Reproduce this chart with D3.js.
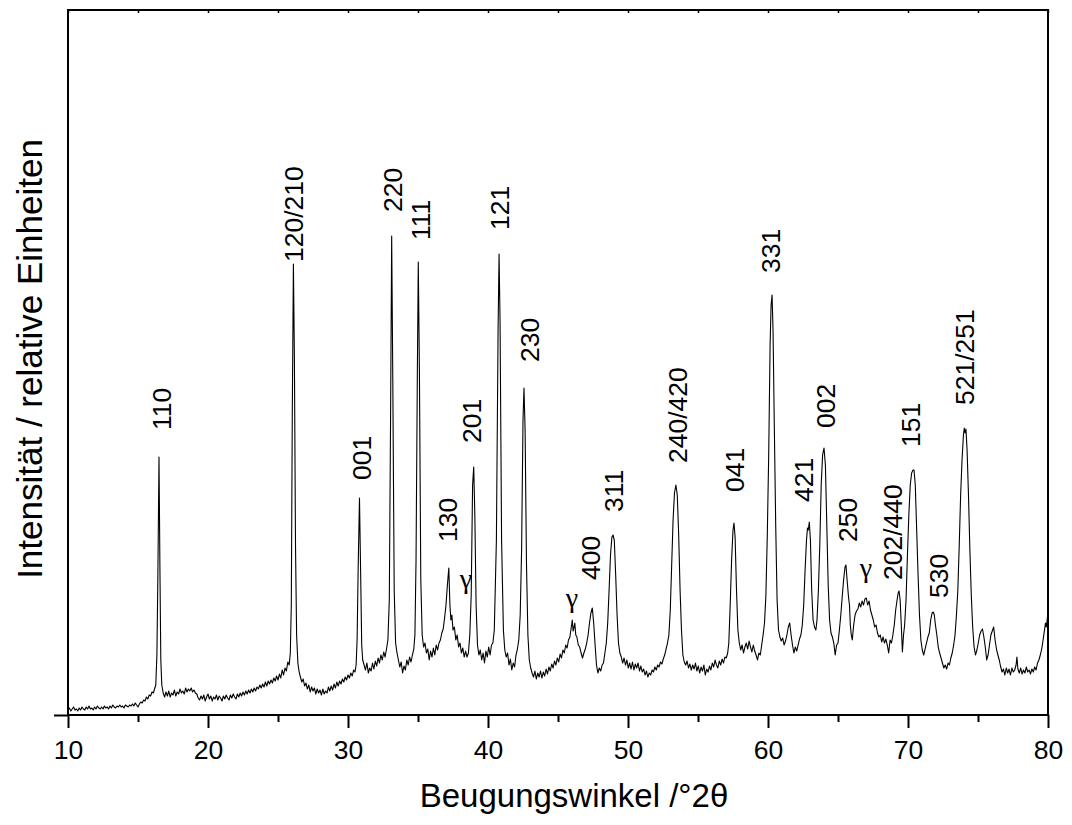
<!DOCTYPE html>
<html><head><meta charset="utf-8">
<script src="https://cdn.jsdelivr.net/npm/d3@7"></script>
<style>body{margin:0;background:#fff}</style>
</head><body>
<svg id="chart" width="1072" height="825"></svg>
<script>
// XRD pattern: [2theta (deg), intensity (arb. units)]
const pattern = [
[10.0,5],[10.1,7],[10.2,4],[10.3,6],[10.4,8],[10.5,5],[10.6,6],[10.7,4],[10.8,7],[10.9,5],[11.0,8],[11.1,6],[11.2,5],
[11.3,8],[11.4,6],[11.5,9],[11.6,6],[11.7,7],[11.8,5],[11.9,8],[12.0,6],[12.1,9],[12.2,7],[12.3,6],[12.4,8],[12.5,6],
[12.6,9],[12.7,7],[12.8,8],[12.9,6],[13.0,9],[13.1,7],[13.2,10],[13.3,8],[13.4,7],[13.5,9],[13.6,8],[13.7,10],[13.8,8],
[13.9,9],[14.0,7],[14.1,10],[14.2,9],[14.3,8],[14.4,10],[14.5,9],[14.6,11],[14.7,9],[14.8,12],[14.9,10],[15.0,8],
[15.1,11],[15.2,13],[15.3,12],[15.4,15],[15.5,14],[15.6,18],[15.7,16],[15.8,20],[15.9,19],[16.0,23],[16.1,22],
[16.2,27],[16.27,30],[16.35,60],[16.42,140],[16.5,258],[16.57,140],[16.63,55],[16.7,30],
[16.8,22],[16.9,18],[17.0,23],[17.1,19],[17.2,24],[17.3,18],[17.4,22],[17.5,20],[17.6,25],[17.7,19],[17.8,23],
[17.9,21],[18.0,26],[18.1,22],[18.2,24],[18.3,21],[18.4,27],[18.5,23],[18.6,26],[18.7,24],[18.8,27],[18.9,23],
[19.0,25],[19.1,22],[19.2,21],[19.3,17],[19.4,15],[19.5,19],[19.6,16],[19.7,20],[19.8,14],[19.9,18],[20.0,21],
[20.1,16],[20.2,19],[20.3,14],[20.4,18],[20.5,16],[20.6,20],[20.7,15],[20.8,19],[20.9,17],[21.0,14],[21.1,19],
[21.2,16],[21.3,20],[21.4,17],[21.5,15],[21.6,20],[21.7,17],[21.8,21],[21.9,18],[22.0,16],[22.1,21],[22.2,18],
[22.3,22],[22.4,19],[22.5,23],[22.6,20],[22.7,24],[22.8,21],[22.9,25],[23.0,22],[23.1,26],[23.2,23],[23.3,27],
[23.4,24],[23.5,28],[23.6,26],[23.7,30],[23.8,27],[23.9,31],[24.0,28],[24.1,33],[24.2,29],[24.3,34],[24.4,31],
[24.5,35],[24.6,32],[24.7,37],[24.8,34],[24.9,39],[25.0,35],[25.1,41],[25.2,37],[25.3,45],[25.4,40],[25.5,47],
[25.6,44],[25.7,53],[25.8,50],[25.88,62],[25.95,110],[26.02,300],[26.1,451],[26.17,360],[26.25,170],[26.33,80],
[26.42,52],[26.5,44],[26.6,38],[26.7,33],[26.8,36],[26.9,29],[27.0,32],[27.1,26],[27.2,30],[27.3,23],[27.4,28],
[27.5,24],[27.6,27],[27.7,21],[27.8,26],[27.9,22],[28.0,25],[28.1,20],[28.2,26],[28.3,21],[28.4,24],[28.5,22],
[28.6,28],[28.7,24],[28.8,29],[28.9,25],[29.0,31],[29.1,27],[29.2,33],[29.3,29],[29.4,34],[29.5,31],[29.6,36],
[29.7,33],[29.8,38],[29.9,35],[30.0,40],[30.1,37],[30.2,42],[30.3,39],[30.4,45],[30.5,43],[30.58,50],[30.65,75],
[30.73,150],[30.82,217],[30.9,145],[30.98,70],[31.05,55],[31.15,50],[31.25,45],[31.35,52],[31.45,42],[31.55,47],
[31.65,44],[31.75,52],[31.85,46],[31.95,54],[32.05,49],[32.15,57],[32.25,52],[32.35,60],[32.45,55],[32.55,63],
[32.65,58],[32.75,66],[32.85,75],[32.95,115],[33.04,295],[33.12,479],[33.2,335],[33.3,125],[33.4,72],[33.5,62],
[33.6,55],[33.7,48],[33.8,53],[33.9,42],[34.0,49],[34.1,45],[34.2,55],[34.3,50],[34.4,58],[34.5,53],[34.6,60],
[34.7,66],[34.78,80],[34.86,155],[34.95,335],[35.02,453],[35.1,345],[35.2,135],[35.3,80],[35.4,68],[35.5,72],
[35.6,62],[35.7,66],[35.8,55],[35.9,64],[36.0,58],[36.1,67],[36.2,60],[36.3,70],[36.4,65],[36.5,72],[36.6,75],
[36.7,82],[36.8,86],[36.9,97],[37.0,110],[37.1,130],[37.2,147],[37.28,110],[37.35,95],[37.42,100],[37.5,85],
[37.6,88],[37.7,75],[37.8,80],[37.9,68],[38.0,72],[38.1,62],[38.2,67],[38.3,58],[38.4,64],[38.5,58],[38.6,62],
[38.7,80],[38.8,120],[38.9,230],[38.98,248],[39.06,200],[39.15,110],[39.25,70],[39.35,60],[39.45,65],[39.55,55],
[39.65,62],[39.75,52],[39.85,64],[39.95,58],[40.05,68],[40.15,60],[40.25,70],[40.35,72],[40.45,85],[40.6,175],
[40.72,385],[40.79,461],[40.86,395],[40.97,175],[41.1,85],[41.2,65],[41.3,58],[41.4,62],[41.5,50],[41.6,56],
[41.7,45],[41.8,52],[41.9,48],[42.0,60],[42.1,66],[42.2,75],[42.3,100],[42.4,165],[42.5,295],[42.57,327],
[42.65,285],[42.75,150],[42.85,80],[42.95,55],[43.05,47],[43.15,42],[43.25,38],[43.35,44],[43.45,36],[43.55,42],
[43.65,38],[43.75,44],[43.85,37],[43.95,43],[44.05,39],[44.15,46],[44.25,41],[44.35,48],[44.45,44],[44.55,51],
[44.65,47],[44.75,54],[44.85,50],[44.95,57],[45.05,53],[45.15,61],[45.25,57],[45.35,65],[45.45,62],[45.55,70],
[45.65,67],[45.75,75],[45.85,78],[45.95,88],[46.02,95],[46.08,84],[46.15,88],[46.2,92],[46.27,80],[46.35,78],
[46.45,70],[46.55,68],[46.65,62],[46.75,57],[46.85,62],[46.95,66],[47.05,72],[47.15,80],[47.25,92],[47.35,102],
[47.45,107],[47.55,92],[47.65,70],[47.75,50],[47.85,42],[47.95,47],[48.05,44],[48.15,50],[48.25,52],[48.35,62],
[48.45,72],[48.55,92],[48.65,125],[48.75,160],[48.85,178],[48.93,180],[49.02,175],[49.12,140],[49.22,100],
[49.32,72],[49.42,62],[49.52,58],[49.62,52],[49.72,57],[49.82,50],[49.92,55],[50.02,47],[50.12,52],[50.22,46],
[50.32,53],[50.42,45],[50.52,51],[50.62,47],[50.72,52],[50.82,44],[50.92,49],[51.02,43],[51.12,46],[51.22,40],
[51.32,44],[51.42,38],[51.52,42],[51.62,40],[51.72,45],[51.82,43],[51.92,48],[52.02,45],[52.12,50],[52.22,48],
[52.32,53],[52.42,51],[52.52,56],[52.62,60],[52.72,66],[52.82,72],[52.92,80],[53.02,105],[53.12,150],[53.22,195],
[53.32,222],[53.42,230],[53.52,220],[53.62,180],[53.72,125],[53.82,85],[53.92,60],[54.02,53],[54.12,50],[54.22,54],
[54.32,47],[54.42,51],[54.52,45],[54.62,50],[54.72,46],[54.82,52],[54.92,44],[55.02,49],[55.12,42],[55.22,48],
[55.32,44],[55.42,50],[55.52,40],[55.62,46],[55.72,43],[55.82,49],[55.92,45],[56.02,52],[56.12,48],[56.22,55],
[56.32,50],[56.42,47],[56.52,54],[56.62,50],[56.72,56],[56.82,52],[56.92,58],[57.02,57],[57.12,62],[57.2,72],
[57.3,110],[57.4,155],[57.5,185],[57.57,192],[57.65,178],[57.75,125],[57.85,85],[57.95,72],[58.05,65],[58.15,70],
[58.25,62],[58.35,68],[58.45,72],[58.55,66],[58.65,74],[58.75,68],[58.85,63],[58.95,70],[59.05,64],[59.15,60],
[59.25,55],[59.35,62],[59.45,60],[59.55,70],[59.65,80],[59.75,92],[59.85,120],[59.95,180],[60.05,260],[60.15,370],
[60.22,410],[60.29,420],[60.36,385],[60.45,290],[60.55,190],[60.65,115],[60.75,85],[60.85,78],[60.95,74],
[61.05,77],[61.15,70],[61.25,74],[61.35,80],[61.45,88],[61.55,92],[61.65,80],[61.75,70],[61.85,62],[61.95,68],
[62.05,64],[62.15,70],[62.25,76],[62.35,80],[62.45,90],[62.55,110],[62.65,145],[62.75,175],[62.82,187],[62.88,185],
[62.95,193],[63.03,175],[63.12,125],[63.22,95],[63.32,88],[63.42,85],[63.5,95],[63.6,125],[63.7,170],[63.8,230],
[63.9,260],[64.0,267],[64.1,250],[64.2,190],[64.3,130],[64.4,95],[64.5,82],[64.6,78],[64.7,72],[64.8,60],[64.9,70],
[65.0,72],[65.1,85],[65.2,100],[65.3,118],[65.4,135],[65.5,148],[65.57,150],[65.65,135],[65.75,118],[65.82,110],
[65.88,90],[65.95,80],[66.02,75],[66.12,90],[66.22,100],[66.32,104],[66.42,106],[66.52,112],[66.62,108],
[66.72,114],[66.82,110],[66.92,116],[67.02,117],[67.12,110],[67.22,114],[67.32,105],[67.42,100],[67.52,95],
[67.62,88],[67.72,90],[67.82,82],[67.92,78],[68.02,80],[68.12,73],[68.22,78],[68.32,72],[68.42,76],[68.52,70],
[68.62,62],[68.72,75],[68.82,72],[68.92,80],[69.02,90],[69.12,105],[69.22,115],[69.3,122],[69.36,124],[69.44,115],
[69.52,90],[69.6,63],[69.68,80],[69.76,90],[69.86,115],[69.96,160],[70.06,200],[70.16,230],[70.26,242],[70.36,245],
[70.43,245],[70.52,230],[70.62,185],[70.72,140],[70.82,100],[70.92,75],[71.02,65],[71.12,60],[71.22,66],[71.32,72],
[71.42,78],[71.52,82],[71.62,95],[71.72,102],[71.8,103],[71.88,100],[71.96,90],[72.06,80],[72.16,68],[72.26,62],
[72.36,57],[72.46,52],[72.56,47],[72.66,50],[72.76,46],[72.86,52],[72.96,50],[73.06,57],[73.16,62],[73.26,70],
[73.36,80],[73.46,100],[73.56,125],[73.66,170],[73.76,220],[73.86,255],[73.96,280],[74.02,287],[74.08,282],
[74.14,286],[74.22,265],[74.32,220],[74.42,165],[74.52,120],[74.62,88],[74.72,68],[74.82,60],[74.92,65],[75.02,72],
[75.12,80],[75.22,84],[75.32,86],[75.42,78],[75.52,68],[75.62,55],[75.72,60],[75.82,70],[75.92,80],[76.02,84],
[76.12,88],[76.22,75],[76.32,66],[76.42,60],[76.52,55],[76.62,48],[76.72,43],[76.82,46],[76.92,40],[77.02,47],
[77.12,42],[77.22,46],[77.32,40],[77.42,47],[77.52,43],[77.62,45],[77.72,50],[77.78,58],[77.85,46],[77.95,42],
[78.05,47],[78.15,41],[78.25,45],[78.35,42],[78.45,48],[78.55,43],[78.65,45],[78.75,41],[78.85,46],[78.95,43],
[79.05,48],[79.15,45],[79.25,52],[79.35,55],[79.45,60],[79.55,66],[79.65,75],[79.75,85],[79.82,92],[79.88,88],
[79.94,95],[80.0,103]
];

const xMajorTicks = [10, 20, 30, 40, 50, 60, 70, 80];
const xMinorTicks = [15, 25, 35, 45, 55, 65, 75];

const peakLabels = ["110","120/210","001","220","111","130","201","121","230","400","311","240/420","041",
                    "331","421","002","250","202/440","151","530","521/251"];
const peakLabelAngle = [16.64,26.07,30.93,33.14,35.21,37.07,38.79,40.79,42.93,47.29,48.93,53.5,57.57,
                        60.21,62.5,64.07,65.64,68.86,70.21,72.21,74.0];
const peakLabelLevel = [285,453,235,503,475,173,272,485,353,135,203,252,223,442,213,287,173,135,268,117,310];

const gammaAngle = [38.43, 46.0, 67.0];
const gammaLevel = [127, 108, 138];

const xTitle = "Beugungswinkel /°2θ";
const yTitle = "Intensität / relative Einheiten";

const svg = d3.select("#chart");
const plotLeft = 68, plotRight = 1048, plotTop = 10, plotBottom = 715;
const x = d3.scaleLinear().domain([10, 80]).range([plotLeft, plotRight]);
const y = d3.scaleLinear().domain([0, 705]).range([plotBottom, plotTop]);
const font = "'Liberation Sans', Arial, sans-serif";

// data line
svg.append("path")
  .datum(pattern)
  .attr("fill", "none")
  .attr("stroke", "#000")
  .attr("stroke-width", 1.1)
  .attr("stroke-linejoin", "round")
  .attr("d", d3.line().x(d => x(d[0])).y(d => y(d[1])));

// frame
svg.append("rect")
  .attr("x", plotLeft).attr("y", plotTop)
  .attr("width", plotRight - plotLeft).attr("height", plotBottom - plotTop)
  .attr("fill", "none").attr("stroke", "#000").attr("stroke-width", 2);

// bottom axis major
const gx = svg.append("g").attr("transform", `translate(0,${plotBottom})`)
  .call(d3.axisBottom(x).tickValues(xMajorTicks).tickSize(13).tickFormat(d3.format("d")));
gx.select(".domain").remove();
gx.selectAll(".tick line").attr("stroke-width", 2);
gx.selectAll(".tick text").attr("y", 25).attr("dy", "0.71em")
  .attr("font-family", font).attr("font-size", 26.5).attr("fill", "#000");

// bottom axis minor
const gxm = svg.append("g").attr("transform", `translate(0,${plotBottom})`)
  .call(d3.axisBottom(x).tickValues(xMinorTicks).tickSize(7).tickFormat(""));
gxm.select(".domain").remove();
gxm.selectAll(".tick line").attr("stroke-width", 2);

// top axis (inward ticks)
const gt = svg.append("g").attr("transform", `translate(0,${plotTop})`)
  .call(d3.axisTop(x).tickValues(xMajorTicks.concat(xMinorTicks)).tickSize(-3).tickFormat(""));
gt.select(".domain").remove();
gt.selectAll(".tick line").attr("stroke-width", 1.5);

// left axis: single tick at zero
const gy = svg.append("g").attr("transform", `translate(${plotLeft},0)`)
  .call(d3.axisLeft(y).tickValues([0]).tickSize(14).tickFormat(""));
gy.select(".domain").remove();
gy.selectAll(".tick line").attr("stroke-width", 2);

// peak labels
svg.append("g").selectAll("text")
  .data(peakLabels)
  .join("text")
  .attr("transform", (d, i) => `translate(${x(peakLabelAngle[i])},${y(peakLabelLevel[i])}) rotate(-90)`)
  .attr("dy", "0.36em")
  .attr("text-anchor", "start")
  .attr("font-family", font)
  .attr("font-size", 26.5)
  .text(d => d);

// gamma markers
svg.append("g").selectAll("text")
  .data(gammaAngle)
  .join("text")
  .attr("x", d => x(d))
  .attr("y", (d, i) => y(gammaLevel[i]))
  .attr("text-anchor", "middle")
  .attr("font-family", "'Liberation Serif', 'Times New Roman', serif")
  .attr("font-size", 28)
  .text("γ");

// axis titles
svg.append("text")
  .attr("x", 574)
  .attr("y", 807)
  .attr("text-anchor", "middle")
  .attr("font-family", font)
  .attr("font-size", 33)
  .text(xTitle);

svg.append("text")
  .attr("transform", `translate(42,359) rotate(-90)`)
  .attr("text-anchor", "middle")
  .attr("font-family", font)
  .attr("font-size", 35)
  .text(yTitle);
</script>
</body></html>
